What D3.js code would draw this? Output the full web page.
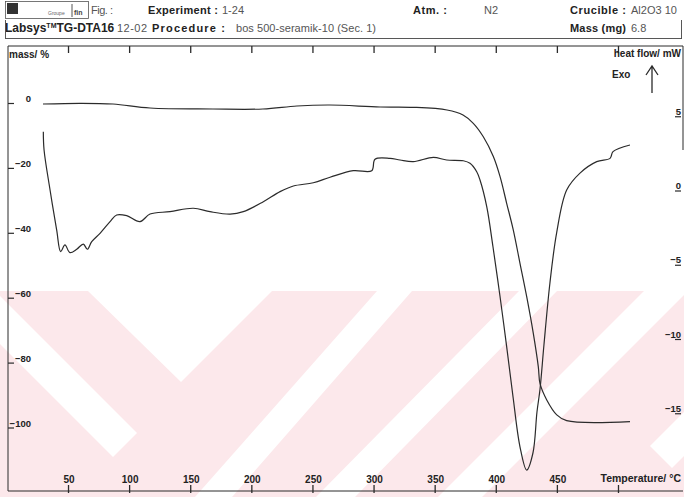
<!DOCTYPE html>
<html><head><meta charset="utf-8">
<script src="https://cdn.jsdelivr.net/npm/d3@7"></script>
<style>body{margin:0;background:#fff}svg{display:block}</style>
</head><body><svg id="c" width="684" height="497"></svg>
<script>
// ---------- data ----------
const tempTicks = [50,100,150,200,250,300,350,400,450,500];
const tempTickLabels = ["50","100","150","200","250","300","350","400","450",""];
const massTicks = [0,-20,-40,-60,-80,-100];
const heatTicks = [5,0,-5,-10,-15];

const tgTemp = [29.1,59.4,86.4,116.7,168.2,209.1,236.9,263.9,304.9,332.1,359.7,372.8,381.2,389.4,397.6,403.1,408.5,413.9,419.4,424.9,430.3,434.4,435.8,441.3,449.5,457.6,509.4];
const tgMass = [-0.31,-0.09,-0.31,-1.54,-1.85,-1.85,-0.92,-0.62,-1.23,-1.33,-2.16,-3.70,-6.26,-10.4,-16.5,-22.7,-30.9,-39.1,-49.4,-59.7,-71.0,-81.3,-86.5,-91.5,-96.1,-97.9,-98.2];

const dtaTemp = [29.4,30.0,34.9,40.3,43.6,47.1,51.2,56.7,62.1,65.4,69.0,75.8,84.0,89.4,97.6,108.5,116.7,133.0,152.1,165.8,182.2,193.0,209.4,223.1,234.0,250.3,264.0,283.0,298.1,300.8,313.1,321.2,332.1,348.5,359.4,373.0,378.5,384.0,386.7,392.2,397.3,403.1,408.5,413.7,419.4,424.9,430.0,433.3,435.8,439.0,443.9,449.5,457.6,468.5,482.2,493.1,495.5,509.4];
const dtaHeat = [3.93,2.69,0,-2.69,-4.15,-3.70,-4.22,-3.99,-3.64,-3.99,-3.48,-2.92,-2.13,-1.68,-1.73,-2.13,-1.62,-1.46,-1.23,-1.46,-1.62,-1.46,-0.79,-0.11,0.27,0.49,0.86,1.30,1.30,2.07,2.13,2.02,1.91,2.20,2.02,1.97,1.80,1.23,0.67,-1.12,-3.82,-7.19,-10.55,-13.92,-17.29,-18.86,-17.71,-14.95,-13.40,-10.44,-6.26,-2.83,0,1.14,1.91,2.13,2.58,3.03];

// ---------- scales ----------
const x = d3.scaleLinear().domain([0,550]).range([7.4,679.6]);
const yMass = d3.scaleLinear().domain([0,-100]).range([103,427.5]);
const yHeat = d3.scaleLinear().domain([5,-15]).range([115.75,412.75]);

const svg = d3.select("#c");
const ink = "#2b2b2b";
const font = "'Liberation Sans', Arial, sans-serif";

// ---------- watermark (background decoration) ----------
const wm = svg.append("g");
wm.append("rect").attr("x",0).attr("y",291).attr("width",684).attr("height",206).attr("fill","#fce8eb");
const holes = [
  [[88,291],[272,291],[181,382]],
  [[0,296],[137,433],[113,457],[0,344]],
  [[377,291],[412,291],[232,497],[195,497]],
  [[519,291],[557,291],[355,497],[316,497]],
  [[644,291],[688,291],[482,497],[438,497]],
  [[684,412],[650,446],[672,468],[684,456]]
];
wm.selectAll("path.h").data(holes).join("path")
  .attr("d", d => "M" + d.map(p => p.join(",")).join("L") + "Z")
  .attr("fill","#fff");

// ---------- header ----------
const hdr = svg.append("g").attr("font-family",font);
hdr.append("rect").attr("x",5.5).attr("y",1.5).attr("width",83).attr("height",17).attr("fill","#fff").attr("stroke","#555").attr("stroke-width",0.8);
hdr.append("rect").attr("x",7).attr("y",3).attr("width",11).attr("height",11).attr("fill","#333");
hdr.append("text").attr("x",48).attr("y",15).attr("font-size",5).attr("fill","#666").text("Groupe");
hdr.append("text").attr("x",74).attr("y",15).attr("font-size",7).attr("font-weight","bold").attr("fill","#444").text("fin");
hdr.append("line").attr("x1",72).attr("x2",72).attr("y1",4).attr("y2",17).attr("stroke","#555");

const t1 = [
  {x:91,t:"Fig. :",b:false,w:22},
  {x:148,t:"Experiment :",b:true,w:70},
  {x:222,t:"1-24",b:false,w:0},
  {x:413,t:"Atm. :",b:true,w:34},
  {x:484,t:"N2",b:false,w:0},
  {x:570,t:"Crucible :",b:true,w:56},
  {x:631,t:"Al2O3 10",b:false,w:0}
];
hdr.selectAll("text.r1").data(t1).join("text")
  .attr("x",d=>d.x).attr("y",14).attr("font-size",11)
  .attr("textLength",d=>d.w||null).attr("lengthAdjust","spacing")
  .attr("font-weight",d=>d.b?"bold":"normal").attr("fill",d=>d.b?"#222":"#555").text(d=>d.t);

const lab = hdr.append("text").attr("x",5).attr("y",32).attr("font-size",12).attr("font-weight","bold").attr("fill","#222");
lab.append("tspan").text("Labsys");
lab.append("tspan").attr("font-size",7).attr("dy",-4).text("TM");
lab.append("tspan").attr("dy",4).text("TG-DTA16");
const t2 = [
  {x:117,t:"12-02",b:false,w:30},
  {x:152,t:"Procedure :",b:true,w:73},
  {x:236,t:"bos 500-seramik-10 (Sec. 1)",b:false,w:140},
  {x:570,t:"Mass (mg)",b:true,w:56},
  {x:631,t:"6.8",b:false,w:0}
];
hdr.selectAll("text.r2").data(t2).join("text")
  .attr("x",d=>d.x).attr("y",32).attr("font-size",11)
  .attr("textLength",d=>d.w||null).attr("lengthAdjust","spacing")
  .attr("font-weight",d=>d.b?"bold":"normal").attr("fill",d=>d.b?"#222":"#555").text(d=>d.t);
hdr.append("line").attr("x1",5).attr("x2",682).attr("y1",38.5).attr("y2",38.5).attr("stroke","#444").attr("stroke-width",0.9);
hdr.append("line").attr("x1",5.5).attr("x2",5.5).attr("y1",20).attr("y2",38.5).attr("stroke","#444").attr("stroke-width",0.9);
hdr.append("line").attr("x1",681.5).attr("x2",681.5).attr("y1",20).attr("y2",38.5).attr("stroke","#444").attr("stroke-width",0.9);

// ---------- frame & axes ----------
const fr = svg.append("g").attr("stroke",ink).attr("stroke-width",1).attr("fill","none");
fr.append("line").attr("x1",8).attr("x2",683).attr("y1",46).attr("y2",46);
fr.append("line").attr("x1",8).attr("x2",8).attr("y1",46).attr("y2",491);
fr.append("line").attr("x1",8).attr("x2",683).attr("y1",491).attr("y2",491);
fr.append("line").attr("x1",683).attr("x2",683).attr("y1",46).attr("y2",150);

// top ticks
svg.append("g").selectAll("line").data(tempTicks).join("line")
  .attr("x1",d=>x(d)).attr("x2",d=>x(d)).attr("y1",46).attr("y2",53)
  .attr("stroke",ink).attr("stroke-width",1.3);

// bottom axis
const xb = d3.axisBottom(x).tickValues(tempTicks).tickFormat((d,i)=>tempTickLabels[i]).tickSize(0);
const gx = svg.append("g").attr("transform","translate(0,484)").call(xb);
gx.select(".domain").remove();
gx.selectAll("text").attr("dy",0).attr("y",-1.5).attr("font-family",font).attr("font-size",10).attr("font-weight","bold").attr("fill","#222");
svg.append("g").selectAll("line").data(tempTicks).join("line")
  .attr("x1",d=>x(d)).attr("x2",d=>x(d)).attr("y1",485).attr("y2",493)
  .attr("stroke",ink).attr("stroke-width",1.3);
svg.append("text").attr("x",681).attr("y",482).attr("text-anchor","end")
  .attr("font-family",font).attr("font-size",10.5).attr("font-weight","bold").attr("fill","#222").text("Temperature/ °C");

// left mass axis
const yl = d3.axisRight(yMass).tickValues(massTicks).tickFormat(d3.format("d")).tickSize(6);
const gl = svg.append("g").attr("transform","translate(8,0)").call(yl);
gl.select(".domain").remove();
gl.selectAll("line").attr("stroke",ink).attr("stroke-width",1.2);
gl.selectAll("text").attr("x",23).attr("dy",-1.5).attr("text-anchor","end")
  .attr("font-family",font).attr("font-size",9.5).attr("font-weight","bold").attr("fill","#222");
svg.append("text").attr("x",9).attr("y",58).attr("font-family",font).attr("font-size",10).attr("font-weight","bold").attr("fill","#222").text("mass/ %");

// right heat flow axis
const yr = d3.axisLeft(yHeat).tickValues(heatTicks).tickFormat(d3.format("d")).tickSize(0);
const gr = svg.append("g").attr("transform","translate(681,0)").call(yr);
gr.select(".domain").remove();
gr.selectAll("text").attr("x",0).attr("dy",-1.5).attr("text-anchor","end")
  .attr("font-family",font).attr("font-size",9.5).attr("font-weight","bold").attr("fill","#222");
svg.append("g").selectAll("line").data(heatTicks).join("line")
  .attr("x1",675).attr("x2",681).attr("y1",d=>yHeat(d)+1).attr("y2",d=>yHeat(d)+1)
  .attr("stroke",ink).attr("stroke-width",1.2);
svg.append("text").attr("x",681).attr("y",57).attr("text-anchor","end").attr("font-family",font).attr("font-size",10).attr("font-weight","bold").attr("fill","#222").text("heat flow/ mW");
svg.append("text").attr("x",612).attr("y",78).attr("font-family",font).attr("font-size",10).attr("font-weight","bold").attr("fill","#222").text("Exo");
svg.append("path").attr("d","M652,93V67M646,75L652,66L658,75").attr("stroke",ink).attr("stroke-width",1.3).attr("fill","none");

// ---------- curves ----------
const tg = tgTemp.map((t,i)=>[t,tgMass[i]]);
const dta = dtaTemp.map((t,i)=>[t,dtaHeat[i]]);
const lineTG = d3.line().x(d=>x(d[0])).y(d=>yMass(d[1])).curve(d3.curveCatmullRom.alpha(0.5));
const lineDTA = d3.line().x(d=>x(d[0])).y(d=>yHeat(d[1])).curve(d3.curveCatmullRom.alpha(0.5));
svg.append("path").datum(tg).attr("d",lineTG).attr("fill","none").attr("stroke",ink).attr("stroke-width",1.2);
svg.append("path").datum(dta).attr("d",lineDTA).attr("fill","none").attr("stroke",ink).attr("stroke-width",1.2);
</script></body></html>
